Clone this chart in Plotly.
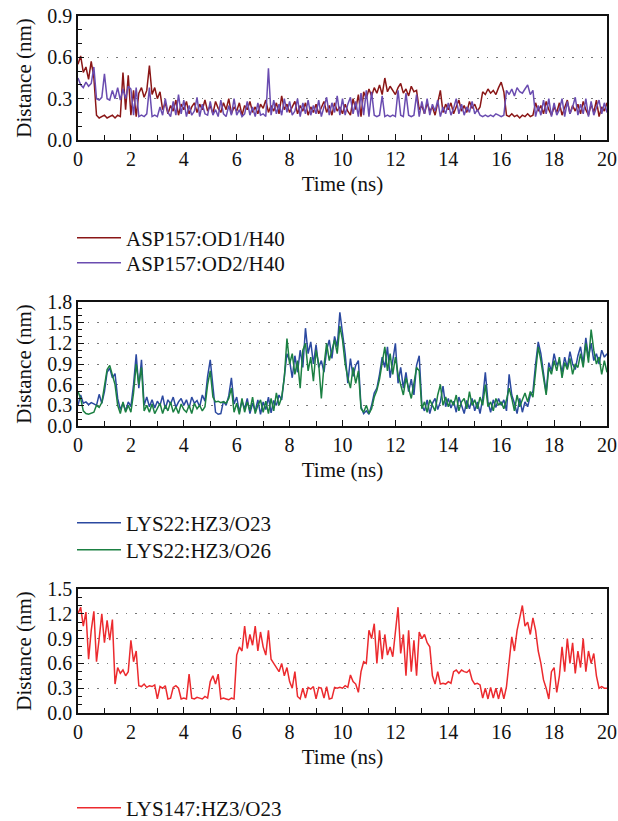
import numpy as np
import plotly.graph_objects as go

# ---------------- data (0.1 ns sampling) ----------------
time_ns = np.round(np.arange(0, 201) * 0.1, 1)

asp157_od1_h40 = [
    0.55, 0.61, 0.49, 0.53, 0.44, 0.57, 0.45, 0.18, 0.16, 0.17,
    0.18, 0.16, 0.17, 0.18, 0.16, 0.18, 0.17, 0.49, 0.22, 0.47,
    0.18, 0.36, 0.17, 0.34, 0.38, 0.31, 0.36, 0.54, 0.33, 0.38,
    0.30, 0.35, 0.22, 0.27, 0.19, 0.25, 0.21, 0.29, 0.18, 0.26,
    0.22, 0.28, 0.19, 0.24, 0.27, 0.20, 0.26, 0.22, 0.29, 0.21,
    0.25, 0.19, 0.28, 0.23, 0.20, 0.27, 0.22, 0.30, 0.19, 0.24,
    0.21, 0.27, 0.18, 0.25, 0.22, 0.28, 0.20, 0.24, 0.19, 0.26,
    0.23, 0.29, 0.20, 0.25, 0.21, 0.27, 0.19, 0.32, 0.22, 0.26,
    0.20, 0.24, 0.28, 0.19, 0.25, 0.21, 0.27, 0.18, 0.24, 0.20,
    0.26, 0.19, 0.23, 0.28, 0.20, 0.25, 0.18, 0.27, 0.21, 0.24,
    0.19, 0.26, 0.21, 0.18, 0.30, 0.22, 0.33, 0.17, 0.35, 0.30,
    0.37, 0.32, 0.38, 0.34, 0.40, 0.33, 0.45, 0.35, 0.39, 0.36,
    0.33, 0.38, 0.41, 0.34, 0.37, 0.32, 0.39, 0.35, 0.36, 0.22,
    0.25, 0.19, 0.27, 0.21, 0.24, 0.18, 0.28, 0.36, 0.20, 0.26,
    0.22, 0.27, 0.19, 0.24, 0.29, 0.21, 0.25, 0.20, 0.28, 0.23,
    0.26, 0.21, 0.24, 0.35, 0.33, 0.37, 0.34, 0.36, 0.33, 0.38,
    0.42, 0.35, 0.18, 0.17, 0.19, 0.17, 0.18, 0.16, 0.18, 0.17,
    0.19, 0.17, 0.18, 0.27, 0.21, 0.25, 0.19, 0.28, 0.22, 0.18,
    0.24, 0.20, 0.27, 0.18, 0.23, 0.29, 0.19, 0.25, 0.21, 0.26,
    0.19, 0.28, 0.22, 0.18, 0.26, 0.20, 0.29, 0.17, 0.24, 0.21,
    0.27,
]

asp157_od2_h40 = [
    0.45, 0.40, 0.38, 0.42, 0.39, 0.41, 0.53, 0.30, 0.29, 0.31,
    0.48, 0.30, 0.29, 0.36, 0.30, 0.38, 0.29, 0.37, 0.30, 0.39,
    0.37, 0.18, 0.38, 0.17, 0.18, 0.17, 0.19, 0.38, 0.17, 0.18,
    0.17, 0.24, 0.18, 0.30, 0.20, 0.17, 0.28, 0.18, 0.33, 0.19,
    0.29, 0.17, 0.25, 0.18, 0.21, 0.31, 0.17, 0.26, 0.19, 0.18,
    0.28, 0.18, 0.22, 0.17, 0.29, 0.19, 0.17, 0.25, 0.18, 0.30,
    0.18, 0.22, 0.17, 0.19, 0.28, 0.18, 0.24, 0.17, 0.27, 0.18,
    0.19, 0.17, 0.52, 0.18, 0.29, 0.19, 0.26, 0.18, 0.30, 0.20,
    0.28, 0.18, 0.21, 0.30, 0.17, 0.27, 0.19, 0.29, 0.18, 0.25,
    0.19, 0.29, 0.17, 0.24, 0.31, 0.18, 0.27, 0.20, 0.32, 0.18,
    0.30, 0.18, 0.26, 0.31, 0.19, 0.28, 0.17, 0.34, 0.18, 0.36,
    0.17, 0.35, 0.18, 0.17, 0.18, 0.32, 0.17, 0.18, 0.17, 0.18,
    0.17, 0.36, 0.18, 0.17, 0.34, 0.18, 0.17, 0.18, 0.33, 0.17,
    0.28, 0.19, 0.30, 0.18, 0.26, 0.21, 0.29, 0.17, 0.24, 0.19,
    0.27, 0.18, 0.23, 0.30, 0.19, 0.26, 0.18, 0.24, 0.20, 0.28,
    0.19, 0.22, 0.18, 0.17, 0.18, 0.17, 0.18, 0.17, 0.19, 0.18,
    0.17, 0.18, 0.36, 0.33, 0.37, 0.32, 0.38, 0.35, 0.34, 0.37,
    0.40, 0.33, 0.36, 0.17, 0.25, 0.18, 0.29, 0.19, 0.30, 0.17,
    0.27, 0.18, 0.22, 0.30, 0.17, 0.28, 0.19, 0.24, 0.31, 0.18,
    0.26, 0.19, 0.30, 0.17, 0.28, 0.18, 0.23, 0.29, 0.19, 0.27,
    0.20,
]

lys22_hz3_o23 = [
    0.30, 0.45, 0.33, 0.35, 0.31, 0.34, 0.32, 0.30, 0.46, 0.33,
    0.50, 0.78, 0.84, 0.70, 0.76, 0.40, 0.24, 0.33, 0.22, 0.35,
    0.28, 0.60, 1.04, 0.55, 0.96, 0.30, 0.42, 0.28, 0.38, 0.26,
    0.36, 0.30, 0.44, 0.25, 0.38, 0.32, 0.42, 0.27, 0.35, 0.40,
    0.30, 0.38, 0.26, 0.42, 0.33, 0.37, 0.28, 0.45, 0.36, 0.72,
    0.96, 0.55, 0.20, 0.17, 0.18, 0.36, 0.30, 0.44, 0.70, 0.32,
    0.42, 0.20, 0.36, 0.25, 0.40, 0.18, 0.33, 0.22, 0.38, 0.17,
    0.35, 0.24, 0.42, 0.19, 0.37, 0.30, 0.45, 0.38, 0.68, 1.05,
    0.95, 0.70, 1.02, 0.78, 1.10, 0.85, 1.42, 1.05, 1.22, 0.90,
    1.18, 0.85, 0.95, 0.78, 1.10, 1.25, 0.98, 1.30, 1.15, 1.65,
    1.35, 1.05, 0.62, 0.98, 0.72, 0.88, 0.95, 0.28, 0.18, 0.22,
    0.17, 0.30, 0.48, 0.55, 0.75, 1.00, 0.85, 1.15, 0.70, 0.95,
    1.20, 0.62, 0.85, 0.55, 0.78, 0.50, 0.68, 0.45, 0.88, 1.02,
    0.30, 0.22, 0.38, 0.18, 0.33, 0.40, 0.24, 0.35, 0.58, 0.28,
    0.40, 0.26, 0.36, 0.20, 0.42, 0.30, 0.18, 0.37, 0.25, 0.40,
    0.22, 0.35, 0.18, 0.40, 0.78, 0.35, 0.20, 0.38, 0.27, 0.40,
    0.30, 0.38, 0.22, 0.75, 0.45, 0.33, 0.18, 0.40, 0.20, 0.35,
    0.28, 0.45, 0.50, 0.90, 1.22, 1.05, 0.80, 0.48, 0.92, 0.80,
    1.05, 0.88, 0.95, 0.78, 1.00, 0.85, 1.08, 0.90, 0.82, 1.02,
    1.15, 0.90, 1.28, 1.00, 1.20, 0.95, 1.05, 0.90, 1.10, 1.00,
    1.05,
]

lys22_hz3_o26 = [
    0.50, 0.40, 0.22, 0.18, 0.17, 0.18, 0.20, 0.30, 0.27, 0.34,
    0.55, 0.82, 0.88, 0.75, 0.60, 0.30, 0.18, 0.35, 0.20, 0.30,
    0.20, 0.48, 0.90, 0.60, 0.85, 0.22, 0.30, 0.20, 0.32, 0.18,
    0.25, 0.33, 0.18, 0.30, 0.22, 0.35, 0.20, 0.28, 0.18, 0.32,
    0.24, 0.20, 0.30, 0.18, 0.33, 0.25, 0.30, 0.22, 0.28, 0.60,
    0.80, 0.42, 0.35, 0.36, 0.34, 0.35, 0.33, 0.40, 0.55, 0.20,
    0.33, 0.17, 0.40, 0.20, 0.35, 0.22, 0.42, 0.18, 0.30, 0.38,
    0.20, 0.36, 0.18, 0.40, 0.22, 0.48, 0.30, 0.42, 0.70, 1.27,
    0.90, 1.05, 0.75, 0.95, 0.55, 1.10, 1.20, 0.80, 1.00, 0.65,
    1.10, 0.90, 0.40, 0.88, 1.20, 0.95, 1.10, 1.25, 1.05, 1.45,
    1.25, 0.90, 0.70, 0.55, 0.85, 0.62, 0.80, 0.25, 0.20, 0.30,
    0.18, 0.25, 0.42, 0.52, 0.68, 0.90, 1.15, 0.80, 1.05, 0.75,
    1.00, 0.75, 0.60, 0.45, 0.70, 0.55, 0.40, 0.62, 0.85, 0.80,
    0.25, 0.35, 0.20, 0.38, 0.30, 0.22, 0.45, 0.60, 0.30, 0.42,
    0.28, 0.38, 0.30, 0.45, 0.22, 0.35, 0.40, 0.25, 0.50, 0.30,
    0.38, 0.25, 0.42, 0.30, 0.60, 0.28, 0.35, 0.22, 0.40, 0.30,
    0.35, 0.25, 0.38, 0.55, 0.40, 0.22, 0.45, 0.28, 0.38, 0.48,
    0.35, 0.50, 0.42, 0.80, 1.15, 0.95, 0.70, 0.45, 0.85, 0.75,
    0.95, 0.80, 1.00, 0.70, 0.92, 0.82, 0.98, 0.75, 0.90, 0.85,
    1.05, 0.85, 1.20, 0.92, 1.40, 1.10, 0.90, 1.00, 0.75, 0.95,
    0.78,
]

lys147_hz3_o23 = [
    1.20, 1.28, 1.05, 1.22, 0.65, 1.00, 1.23, 0.62, 0.90, 1.20,
    0.85, 1.12, 0.88, 1.13, 0.35, 0.55, 0.48, 0.52, 0.45, 0.50,
    0.88, 0.62, 0.75, 0.33, 0.32, 0.35, 0.31, 0.33, 0.32, 0.34,
    0.17, 0.32, 0.30, 0.33, 0.17, 0.18, 0.31, 0.33, 0.30, 0.17,
    0.18, 0.17, 0.47, 0.18, 0.17, 0.19, 0.18, 0.17, 0.20, 0.18,
    0.38, 0.45, 0.35, 0.47, 0.17, 0.18, 0.17, 0.16, 0.18, 0.17,
    0.70, 0.80, 0.75, 1.05, 0.78, 0.95, 0.82, 1.05, 0.75, 0.98,
    0.80, 0.70, 1.00, 0.65, 0.60, 0.55, 0.50, 0.60, 0.45, 0.55,
    0.38, 0.30, 0.50, 0.20, 0.17, 0.30, 0.18, 0.31, 0.29, 0.32,
    0.17, 0.31, 0.30, 0.18, 0.32, 0.17, 0.18, 0.31, 0.30, 0.31,
    0.30, 0.33, 0.31, 0.46, 0.38, 0.35, 0.25, 0.50, 0.62, 0.60,
    1.00, 0.90, 1.08, 0.60, 1.00, 0.65, 0.95, 0.70, 0.80, 0.68,
    0.95, 1.28, 0.72, 0.95, 0.45, 1.00, 0.50, 0.88, 0.45, 0.98,
    0.90, 0.95, 0.85, 0.80, 0.45, 0.35, 0.50, 0.35, 0.36, 0.35,
    0.38, 0.36, 0.50, 0.52, 0.48, 0.52, 0.50, 0.49, 0.52, 0.40,
    0.35, 0.36, 0.34, 0.18, 0.30, 0.17, 0.31, 0.18, 0.30, 0.17,
    0.31, 0.17, 0.32, 0.60, 0.92, 0.75, 1.00, 1.15, 1.30, 1.05,
    1.10, 0.95, 1.15, 1.00, 0.75, 0.60, 0.40, 0.30, 0.17, 0.50,
    0.55, 0.25, 0.45, 0.80, 0.50, 0.90, 0.60, 0.85, 0.48, 0.75,
    0.55, 0.90, 0.50, 0.75, 0.60, 0.72, 0.45, 0.30, 0.32, 0.30,
    0.30,
]

x_ticks = [0, 2, 4, 6, 8, 10, 12, 14, 16, 18, 20]
y_max = [0.9, 1.8, 1.5]
x_title = "Time (ns)"
y_title = "Distance (nm)"

# ---------------- figure ----------------
W, H = 618, 821
FONT = "Liberation Serif"
FS = 21
FS_TICK = 20

fig = go.Figure()

series = [
    (asp157_od1_h40, "ASP157:OD1/H40", "#8a1616", 1),
    (asp157_od2_h40, "ASP157:OD2/H40", "#6a4cb0", 1),
    (lys22_hz3_o23, "LYS22:HZ3/O23", "#2b49a0", 2),
    (lys22_hz3_o26, "LYS22:HZ3/O26", "#1b8042", 2),
    (lys147_hz3_o23, "LYS147:HZ3/O23", "#ec2a2e", 3),
]
# legend row centres (px from top)
legend_rows = [238, 263, 523, 550, 808]

for k, (vals, name, color, p) in enumerate(series):
    fig.add_trace(go.Scatter(
        x=time_ns, y=vals, mode="lines", name=name,
        line=dict(color=color, width=1.5),
        xaxis="x" if p == 1 else f"x{p}",
        yaxis="y" if p == 1 else f"y{p}",
        legend="legend" if k == 0 else f"legend{k + 1}",
    ))

# pixel geometry of each panel (top, bottom)
panels = [(16, 140), (302, 426), (589, 713)]
x_left, x_right = 78, 607

def px_x(v):
    return v / W

def px_y(v):
    return 1 - v / H

layout = dict(
    width=W, height=H,
    margin=dict(l=0, r=0, t=0, b=0, autoexpand=False),
    paper_bgcolor="white", plot_bgcolor="white",
    font=dict(family=FONT, size=FS, color="#111"),
    showlegend=True,
)

for i, (top, bottom) in enumerate(panels):
    sfx = "" if i == 0 else str(i + 1)
    ymax = y_max[i]
    layout["xaxis" + sfx] = dict(
        domain=[px_x(x_left), px_x(x_right)],
        anchor="y" + sfx, automargin=False, ticklabeloverflow="allow",
        range=[0, 20], tickvals=x_ticks,
        ticks="inside", ticklen=6, tickwidth=1.3, tickcolor="#111",
        minor=dict(ticks="inside", dtick=1, ticklen=5, tickwidth=1.2, tickcolor="#111"),
        showline=True, linecolor="#111", linewidth=1.5, mirror=True,
        showgrid=False, zeroline=False,
        title=dict(text=x_title, standoff=8, font=dict(size=FS)),
        tickfont=dict(size=FS_TICK),
    )
    layout["yaxis" + sfx] = dict(
        domain=[px_y(bottom), px_y(top)],
        anchor="x" + sfx, automargin=False, ticklabeloverflow="allow",
        range=[0, ymax], dtick=0.3, tickformat=".1f",
        ticks="inside", ticklen=6, tickwidth=1.3, tickcolor="#111",
        minor=dict(ticks="inside", dtick=0.1, ticklen=4, tickwidth=1.2, tickcolor="#111"),
        showline=True, linecolor="#111", linewidth=1.5, mirror=True,
        showgrid=True, gridcolor="#777", gridwidth=1.3, griddash="1.5px,8px",
        zeroline=False,
        title=dict(text=y_title, standoff=10, font=dict(size=FS)),
        tickfont=dict(size=FS_TICK),
    )

for k, row in enumerate(legend_rows):
    key = "legend" if k == 0 else f"legend{k + 1}"
    layout[key] = dict(
        x=px_x(72), y=px_y(row), xanchor="left", yanchor="middle",
        bgcolor="rgba(0,0,0,0)", borderwidth=0,
        font=dict(family=FONT, size=FS, color="#111"),
        tracegroupgap=0, itemwidth=44,
    )

fig.update_layout(**layout)
# remove the browser's default 8 px body margin so the 618x821 figure fills the window
fig.write_html(
    "out.html",
    config={"displayModeBar": False},
    post_script="document.body.style.margin='0px';document.body.style.overflow='hidden';",
)
